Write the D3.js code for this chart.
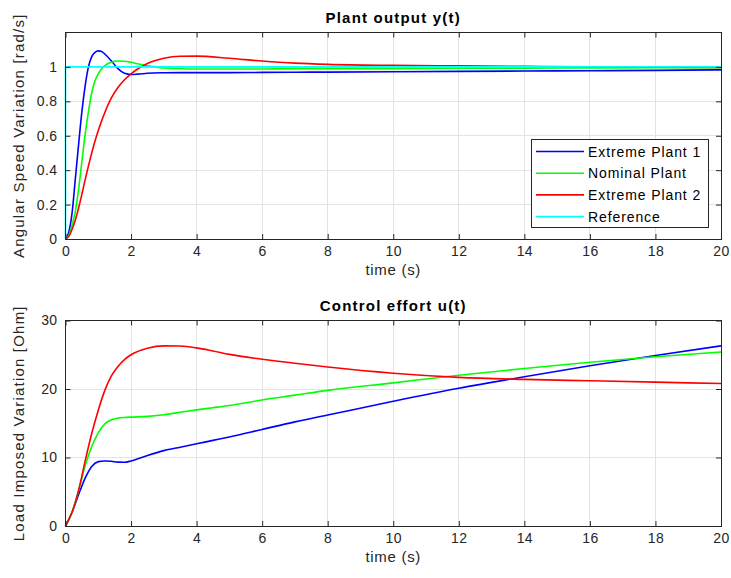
<!DOCTYPE html>
<html>
<head>
<meta charset="utf-8">
<script src="https://cdn.jsdelivr.net/npm/d3@7"></script>
<style>
  html, body { margin: 0; padding: 0; background: #ffffff; }
  svg { display: block; }
  text { font-family: "Liberation Sans", Arial, Helvetica, sans-serif; }
</style>
</head>
<body>
<svg id="chart" width="731" height="578"></svg>
<script>
// ---------------- DATA ----------------
const seriesNames = ["Extreme Plant 1", "Nominal Plant", "Extreme Plant 2", "Reference"];
const seriesColors = ["#0000ff", "#00ff00", "#ff0000", "#00ffff"];

const xTicks = [0, 2, 4, 6, 8, 10, 12, 14, 16, 18, 20];
const yTicksTop = [0, 0.2, 0.4, 0.6, 0.8, 1];
const yTicksBottom = [0, 10, 20, 30];

// Plant output y(t)
const tY = [0, 0.1, 0.2, 0.3, 0.4, 0.5, 0.6, 0.7, 0.8, 0.9, 1.0, 1.1, 1.2, 1.4, 1.6, 1.8, 2.0, 2.2, 2.5, 3, 3.5, 4, 5, 6, 7, 8, 10, 12, 14, 16, 18, 20];
const yPlant1 = [0, 0.04, 0.15, 0.35, 0.55, 0.74, 0.89, 1.0, 1.06, 1.085, 1.093, 1.09, 1.075, 1.035, 0.99, 0.963, 0.956, 0.958, 0.963, 0.966, 0.967, 0.967, 0.967, 0.968, 0.969, 0.970, 0.972, 0.974, 0.976, 0.978, 0.980, 0.983];
const yNominal = [0, 0.02, 0.08, 0.16, 0.29, 0.45, 0.61, 0.74, 0.85, 0.92, 0.96, 0.99, 1.008, 1.027, 1.034, 1.033, 1.027, 1.018, 1.006, 0.994, 0.989, 0.988, 0.988, 0.988, 0.989, 0.989, 0.99, 0.992, 0.993, 0.994, 0.995, 0.996];
const yPlant2 = [0, 0.015, 0.055, 0.11, 0.18, 0.26, 0.345, 0.425, 0.5, 0.57, 0.63, 0.685, 0.735, 0.82, 0.88, 0.925, 0.96, 0.988, 1.02, 1.05, 1.062, 1.063, 1.05, 1.034, 1.022, 1.015, 1.009, 1.006, 1.003, 1.0, 0.998, 0.997];
const tRef = [0, 0, 20];
const yRef = [0, 1, 1];

// Control effort u(t)
const tU = [0, 0.2, 0.4, 0.6, 0.8, 1.0, 1.2, 1.4, 1.6, 1.8, 2.0, 2.5, 3, 3.5, 4, 4.5, 5, 6, 7, 8, 10, 12, 14, 16, 18, 20];
const uPlant1 = [0, 2.0, 4.6, 7.0, 8.7, 9.4, 9.5, 9.45, 9.32, 9.3, 9.5, 10.3, 11.0, 11.5, 12.0, 12.5, 13.0, 14.1, 15.2, 16.2, 18.2, 20.1, 21.8, 23.4, 24.9, 26.3];
const uNominal = [0, 2.0, 5.2, 8.8, 11.6, 13.6, 14.9, 15.5, 15.75, 15.85, 15.9, 16.0, 16.25, 16.6, 16.95, 17.27, 17.6, 18.4, 19.1, 19.8, 20.9, 22.0, 23.0, 23.9, 24.7, 25.4];
const uPlant2 = [0, 2.0, 5.2, 9.5, 13.5, 16.9, 19.8, 21.9, 23.3, 24.3, 25.0, 25.95, 26.3, 26.27, 26.0, 25.55, 25.05, 24.35, 23.75, 23.2, 22.3, 21.7, 21.4, 21.2, 21.0, 20.8];

// ---------------- DRAW ----------------
const svg = d3.select("#chart");
const axisColor = "#262626";
const gridColor = "#e3e3e3";
const L = 65.5, R = 721;

function zip(ts, vs) { return ts.map((t, i) => [t, vs[i]]); }

function panel(cfg) {
  const x = d3.scaleLinear().domain([0, 20]).range([L, R]);
  const y = d3.scaleLinear().domain(cfg.yDomain).range([cfg.bottom, cfg.top]);
  const g = svg.append("g");
  const h = cfg.bottom - cfg.top, w = R - L;

  // grid
  g.append("g").selectAll("line").data(xTicks.slice(1, -1)).join("line")
    .attr("x1", d => x(d)).attr("x2", d => x(d)).attr("y1", cfg.top).attr("y2", cfg.bottom)
    .attr("stroke", gridColor).attr("stroke-width", 1).attr("shape-rendering", "crispEdges");
  g.append("g").selectAll("line").data(cfg.yTicks.filter(d => d > cfg.yDomain[0] && d < cfg.yDomain[1])).join("line")
    .attr("x1", L).attr("x2", R).attr("y1", d => y(d)).attr("y2", d => y(d))
    .attr("stroke", gridColor).attr("stroke-width", 1).attr("shape-rendering", "crispEdges");

  // lines
  const smooth = d3.line().x(d => x(d[0])).y(d => y(d[1])).curve(d3.curveMonotoneX);
  const straight = d3.line().x(d => x(d[0])).y(d => y(d[1]));
  cfg.series.forEach(s => {
    g.append("path").datum(zip(s.t, s.v))
      .attr("fill", "none").attr("stroke", s.color).attr("stroke-width", 1.6)
      .attr("stroke-linejoin", "round")
      .attr("d", s.step ? straight : smooth);
  });

  // axes: ticks inside on all four sides
  const fmt = d => String(d);
  const bottomAx = g.append("g").attr("transform", `translate(0,${cfg.bottom})`)
    .call(d3.axisBottom(x).tickValues(xTicks).tickFormat(fmt).tickSizeInner(-5).tickSizeOuter(0).tickPadding(7));
  const leftAx = g.append("g").attr("transform", `translate(${L},0)`)
    .call(d3.axisLeft(y).tickValues(cfg.yTicks).tickFormat(fmt).tickSizeInner(-5).tickSizeOuter(0).tickPadding(8));
  const topAx = g.append("g").attr("transform", `translate(0,${cfg.top})`)
    .call(d3.axisTop(x).tickValues(xTicks).tickFormat("").tickSizeInner(-5).tickSizeOuter(0));
  const rightAx = g.append("g").attr("transform", `translate(${R},0)`)
    .call(d3.axisRight(y).tickValues(cfg.yTicks).tickFormat("").tickSizeInner(-5).tickSizeOuter(0));
  [bottomAx, leftAx, topAx, rightAx].forEach(a => {
    a.select(".domain").remove();
    a.selectAll("line").attr("stroke", axisColor);
    a.selectAll("text").attr("fill", axisColor).style("font-size", "14px")
      .style("letter-spacing", "0.4px")
      .style("font-family", '"Liberation Sans", Arial, sans-serif');
  });

  // box
  g.append("rect").attr("x", L).attr("y", cfg.top).attr("width", w).attr("height", h)
    .attr("fill", "none").attr("stroke", axisColor).attr("stroke-width", 1).attr("shape-rendering", "crispEdges");

  // title
  g.append("text").attr("x", (L + R) / 2).attr("y", cfg.top - 10).attr("text-anchor", "middle")
    .style("font-size", "15px").style("font-weight", "bold").style("letter-spacing", "1.2px")
    .attr("fill", "#000").text(cfg.title);
  // x label
  g.append("text").attr("x", (L + R) / 2).attr("y", cfg.bottom + 36).attr("text-anchor", "middle")
    .style("font-size", "15px").style("letter-spacing", "0.7px")
    .attr("fill", axisColor).text("time (s)");
  // y label
  g.append("text").attr("transform", `translate(24,${(cfg.top + cfg.bottom) / 2}) rotate(-90)`)
    .attr("text-anchor", "middle").style("font-size", "15px").style("letter-spacing", "1.2px")
    .attr("fill", axisColor).text(cfg.ylabel);

  return { x, y, g };
}

panel({
  top: 32.5, bottom: 239, yDomain: [0, 1.2], yTicks: yTicksTop,
  title: "Plant output y(t)", ylabel: "Angular Speed Variation [rad/s]",
  series: [
    { t: tY, v: yPlant1, color: seriesColors[0] },
    { t: tY, v: yNominal, color: seriesColors[1] },
    { t: tY, v: yPlant2, color: seriesColors[2] },
    { t: tRef, v: yRef, color: seriesColors[3], step: true }
  ]
});

panel({
  top: 320.5, bottom: 526, yDomain: [0, 30], yTicks: yTicksBottom,
  title: "Control effort u(t)", ylabel: "Load Imposed Variation [Ohm]",
  series: [
    { t: tU, v: uPlant1, color: seriesColors[0] },
    { t: tU, v: uNominal, color: seriesColors[1] },
    { t: tU, v: uPlant2, color: seriesColors[2] }
  ]
});

// legend
const lg = svg.append("g");
lg.append("rect").attr("x", 531.5).attr("y", 139.5).attr("width", 177).attr("height", 88)
  .attr("fill", "#fff").attr("stroke", axisColor).attr("stroke-width", 1);
seriesNames.forEach((name, i) => {
  const yy = 151.5 + i * 21.7;
  lg.append("line").attr("x1", 536).attr("x2", 584).attr("y1", yy).attr("y2", yy)
    .attr("stroke", seriesColors[i]).attr("stroke-width", 1.6);
  lg.append("text").attr("x", 588).attr("y", yy + 5).style("font-size", "14px")
    .style("letter-spacing", "0.9px").attr("fill", "#000").text(name);
});
</script>
</body>
</html>
